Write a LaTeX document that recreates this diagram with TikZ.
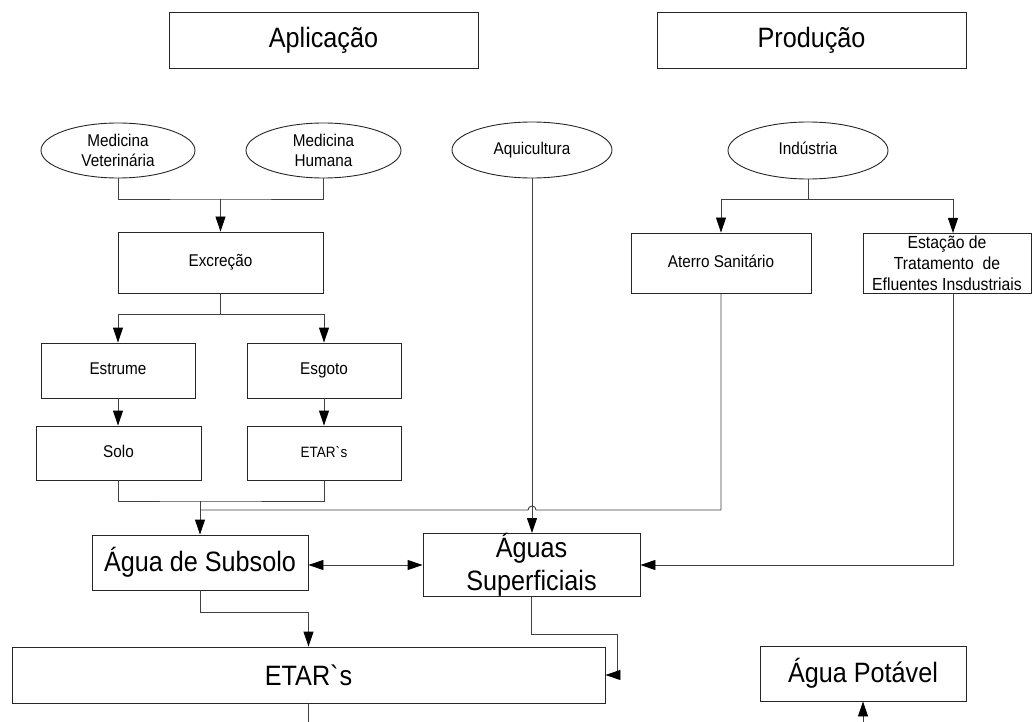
\documentclass[tikz,border=0pt]{standalone}
\usepackage{fontspec}
\setmainfont{Liberation Sans}[FakeStretch=0.9]
\usetikzlibrary{arrows.meta,calc,shapes.geometric}
\begin{document}
\begin{tikzpicture}[x=1pt,y=-1pt,
  box/.style={draw=black!85, line width=0.9pt, rectangle, inner sep=0pt, align=center},
  oval/.style={draw=black!85, line width=0.9pt, ellipse, inner sep=0pt, align=center},
  sm/.style={font=\fontsize{17}{20}\selectfont},
  one/.style={text height=12pt, text depth=3.5pt},
  lg/.style={font=\fontsize{28}{33}\selectfont},
  conn/.style={draw=black!75, line width=0.9pt},
  arr/.style={conn, -{Triangle[length=15pt,width=10pt,color=black]}},
  arrtwo/.style={conn, {Triangle[length=15pt,width=10pt,color=black]}-{Triangle[length=15pt,width=10pt,color=black]}},
]
\useasboundingbox (0,0) rectangle (1033,722);

% nodes
\node[box,lg,minimum width=309pt,minimum height=56pt] (apl) at (323.5,40) {Aplicação};
\node[box,lg,minimum width=309pt,minimum height=56pt] (prod) at (811.5,40) {Produção};
\node[oval,sm,minimum width=154pt,minimum height=55pt] (medvet) at (118,150.5) {Medicina\\Veterinária};
\node[oval,sm,minimum width=155pt,minimum height=55pt] (medhum) at (323.5,150.5) {Medicina\\Humana};
\node[oval,sm,one,minimum width=160pt,minimum height=56pt] (aqui) at (532,150) {Aquicultura};
\node[oval,sm,one,minimum width=160pt,minimum height=57pt] (ind) at (808,150.5) {Indústria};
\node[box,sm,one,minimum width=205pt,minimum height=61pt] (excr) at (220.5,262.5) {Excreção};
\node[box,sm,one,minimum width=154pt,minimum height=55pt] (estrume) at (118,370.5) {Estrume};
\node[box,sm,one,minimum width=154pt,minimum height=55pt] (esgoto) at (324,370.5) {Esgoto};
\node[box,sm,one,minimum width=165pt,minimum height=54pt] (solo) at (118.5,453) {Solo};
\node[box,font=\fontsize{15}{18}\selectfont,one,minimum width=154pt,minimum height=54pt] (etarone) at (324,453) {ETAR\textasciigrave s};
\node[box,sm,one,minimum width=180pt,minimum height=60pt] (aterro) at (721,263) {Aterro Sanitário};
\node[box,font=\fontsize{17.5}{21}\selectfont,minimum width=168pt,minimum height=60pt] (estacao) at (947,263) {Estação de\\Tratamento\ \ de\\Efluentes Insdustriais};
\node[box,lg,minimum width=216pt,minimum height=55pt] (subsolo) at (200,562.5) {Água de Subsolo};
\node[box,lg,minimum width=217pt,minimum height=56pt] (aguas) at (531.5,565) {Águas\\Superficiais};
\node[box,lg,minimum width=593pt,minimum height=56pt] (etartwo) at (308.5,675) {ETAR\textasciigrave s};
\node[box,lg,minimum width=206pt,minimum height=55pt] (potavel) at (863,673.5) {Água Potável};

% junctions
\coordinate (j1) at (220.5,199);
\coordinate (j2) at (220.5,314);
\coordinate (j3) at (200,501);
\coordinate (j4) at (200,510);
\coordinate (hopR) at (536,510);
\coordinate (j5) at (808,199);
\coordinate (estin) at (953,233);
\coordinate (estout) at (953,293);
\coordinate (c1) at (617,634);
\coordinate (c2) at (308.5,612);
\coordinate (bot1) at (308.5,722);
\coordinate (bot2) at (863,722);

% connectors
\draw[conn] (medvet.south) |- (j1) -| (medhum.south);
\draw[arr] (j1) -- (excr.north);
\draw[conn] (excr.south) -- (j2);
\draw[arr] (j2) -| (estrume.north);
\draw[arr] (j2) -| (esgoto.north);
\draw[arr] (estrume.south) -- (estrume.south |- solo.north);
\draw[arr] (esgoto.south) -- (etarone.north);
\draw[conn] (solo.south) |- (j3) -| (etarone.south);
\draw[arr] (j3) -- (subsolo.north);
\draw[conn] (aterro.south) |- (hopR) arc[start angle=0,end angle=180,radius=4pt] -- (j4);
\draw[arr] (aqui.south) -- (aqui.south |- aguas.north);
\draw[conn] (ind.south) -- (j5);
\draw[arr] (j5) -| (aterro.north);
\draw[arr] (j5) -| (estin);
\draw[arr] (estout) |- (aguas.east);
\draw[arrtwo] (aguas.west -| subsolo.east) -- (aguas.west);
\draw[arr] (subsolo.south) |- (c2) -- (etartwo.north);
\draw[arr] (aguas.south) |- (c1) |- (etartwo.east);
\draw[conn] (etartwo.south) -- (bot1);
\draw[arr] (bot2) -- (potavel.south);
\end{tikzpicture}
\end{document}
